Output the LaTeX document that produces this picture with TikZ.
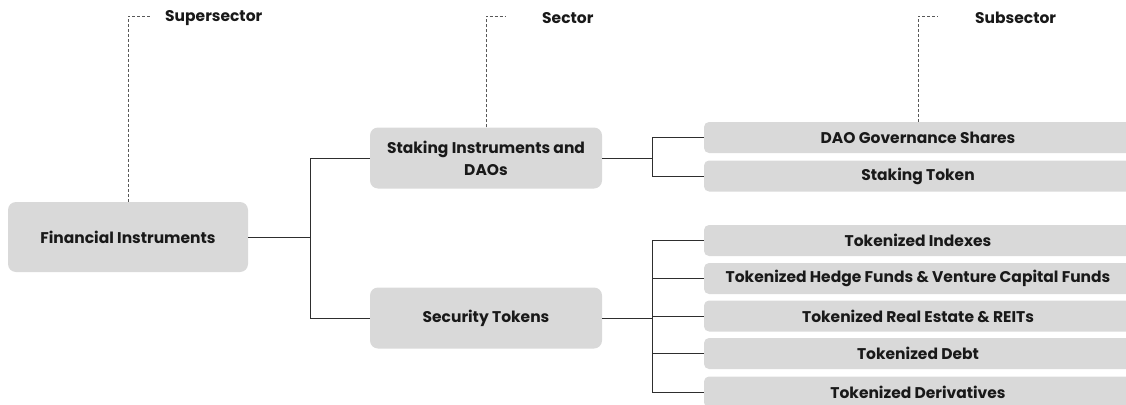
\documentclass[tikz,border=0pt]{standalone}
\usepackage{fontspec}
\setmainfont{Poppins}
\usetikzlibrary{positioning,calc}
\definecolor{boxgray}{HTML}{D9D9D9}
\definecolor{linegray}{HTML}{2E2E2E}
\begin{document}
\begin{tikzpicture}[x=1pt,y=-1pt,
  box/.style={fill=boxgray,rounded corners=8pt,align=center,text=black!90,
    font=\bfseries\fontsize{15.5}{22}\selectfont,minimum width=232pt,minimum height=61pt},
  sub/.style={fill=boxgray,rounded corners=5pt,text=black!90,
    font=\bfseries\fontsize{15.5}{18}\selectfont,minimum width=428pt,minimum height=31pt},
  link/.style={draw=linegray,line width=0.9pt},
  guide/.style={draw=linegray!80,dash pattern=on 3pt off 2pt,line width=0.8pt},
  tag/.style={font=\bfseries\fontsize{15.5}{18}\selectfont,text=black!90,anchor=west,inner sep=0pt}]
\clip (0,0) rectangle (1126,404);
% top row labels
\node[tag] (lsuper) at (165,18) {Supersector};
\node[tag] (lsector) at (542,18) {Sector};
\node[tag] (lsub) at (975,18) {Subsector};
% supersector
\node[box,minimum width=240pt,minimum height=70pt] (fin) at (128,237) {Financial Instruments};
% sectors
\node[box] (stak) at (486,158) {Staking Instruments and\\DAOs};
\node[box] (sec) at (486,318) {Security Tokens};
% subsectors
\node[sub] (dao) at (918,137.5) {DAO Governance Shares};
\node[sub] (stok) at (918,176) {Staking Token};
\node[sub] (idx) at (918,240.5) {Tokenized Indexes};
\node[sub] (hedge) at (918,278.5) {Tokenized Hedge Funds \& Venture Capital Funds};
\node[sub] (reit) at (918,316) {Tokenized Real Estate \& REITs};
\node[sub] (debt) at (918,353.5) {Tokenized Debt};
\node[sub] (deriv) at (918,392) {Tokenized Derivatives};
% guides
\draw[guide] (fin.north) |- ($(lsuper.west)+(-13,-2)$);
\draw[guide] (stak.north) |- ($(lsector.west)+(-37,-2)$);
\draw[guide] (dao.north) |- ($(lsub.west)+(-37,-2)$);
% connectors
\draw[link] (fin.east) -- ++(62,0) |- (stak.west);
\draw[link] (fin.east) -- ++(62,0) |- (sec.west);
\foreach \n in {dao,stok}
  \draw[link] (stak.east) -- ++(50,0) |- (\n.west);
\foreach \n in {idx,hedge,reit,debt,deriv}
  \draw[link] (sec.east) -- ++(50,0) |- (\n.west);
\end{tikzpicture}
\end{document}
